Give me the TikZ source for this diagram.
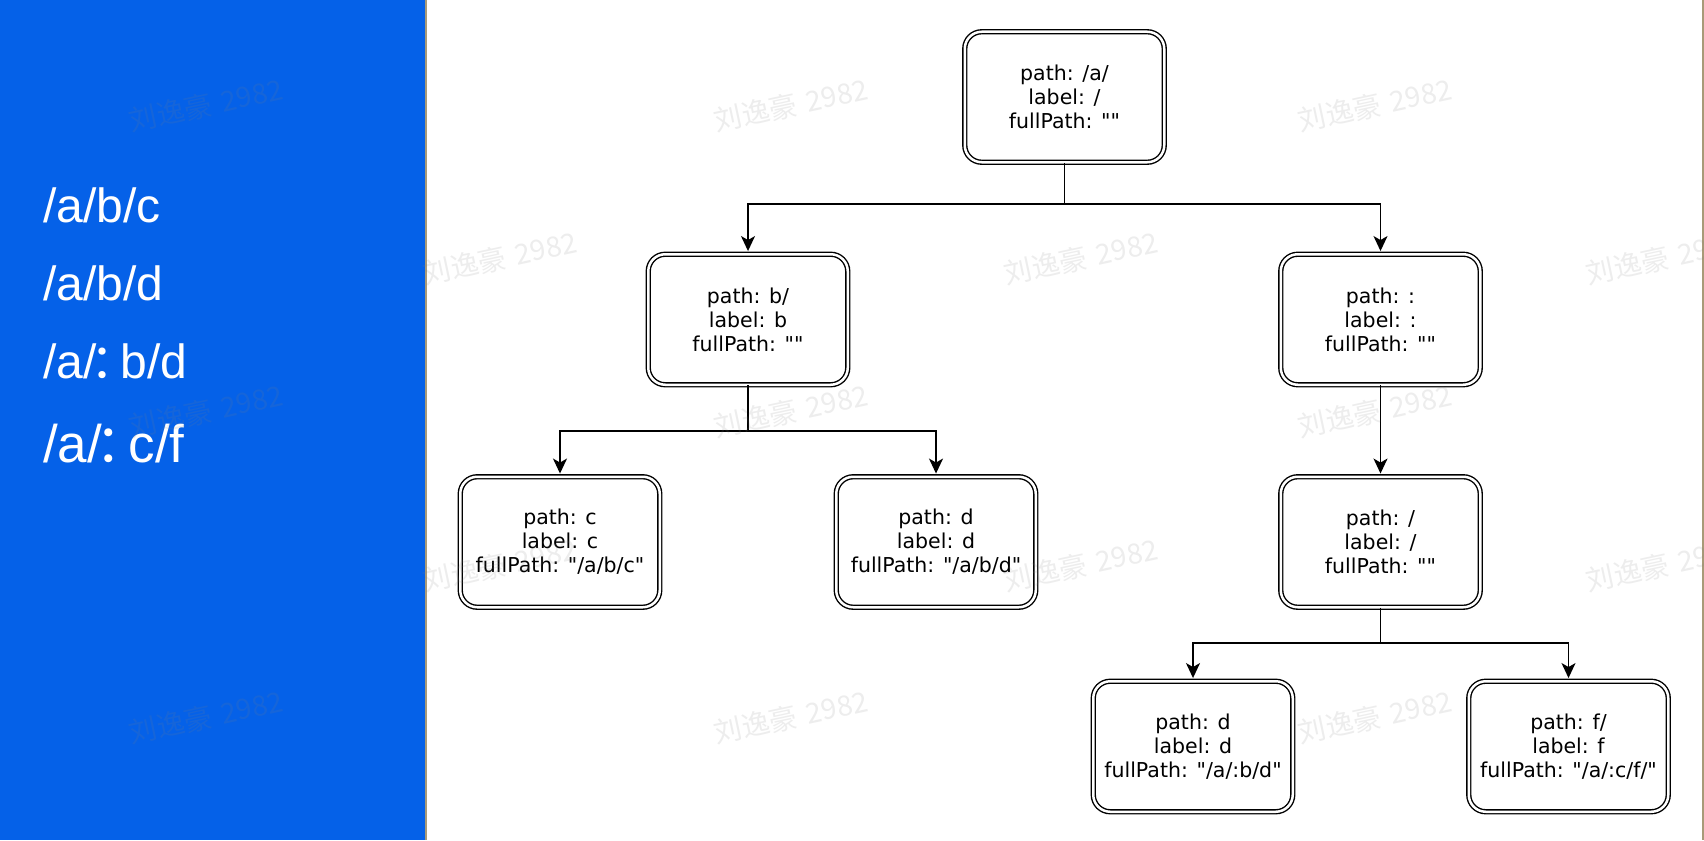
\documentclass[tikz,border=0pt]{standalone}
\usepackage{fontspec}
\setmainfont{Liberation Sans}
\newfontfamily\boxfont{DejaVu Sans}
\newfontfamily\cjk{Noto Sans CJK SC}
\usetikzlibrary{arrows.meta}
\definecolor{panelblue}{HTML}{0561E8}
\definecolor{frametan}{HTML}{A89A78}
\newcommand{\widecolon}{{\cjk\makebox[0.5em][l]{\hspace{-0.13em}：}}}
\tikzset{
  treenode/.style={draw=black, double=white, double distance=2.5pt, line width=1.4pt,
    rounded corners=17pt, minimum width=199.5pt, minimum height=130.5pt,
    inner sep=0pt, align=center, fill=white,
    font=\boxfont\fontsize{20.5}{24}\selectfont},
  arr/.style={line width=1.6pt, -{Stealth[length=15pt,width=14pt,inset=4pt]},
    shorten >=2.5pt},
  link/.style={line width=1.6pt},
  pathtext/.style={anchor=base west, text=white, inner sep=0pt},
  wmark/.style={text=gray, opacity=0.14, rotate=12, inner sep=0pt,
    font=\cjk\fontsize{28}{28}\selectfont}
}
\begin{document}
\begin{tikzpicture}[x=1pt,y=-1pt]
\useasboundingbox (0,0) rectangle (1704,840);
\fill[white] (0,0) rectangle (1704,840);
% left panel with the list of paths
\fill[panelblue] (0,0) rectangle (425,840);
\draw[frametan, line width=1.5pt] (426,0) -- (426,840);
\draw[frametan, line width=1.5pt] (1703,0) -- (1703,840);

\node[pathtext, font=\fontsize{48}{48}\selectfont] (p1) at (43,222) {/a/b/c};
\node[pathtext, font=\fontsize{48}{48}\selectfont] (p2) at (43,300) {/a/b/d};
\node[pathtext, font=\fontsize{48}{48}\selectfont] (p3) at (43,378) {/a/\widecolon b/d};
\node[pathtext, font=\fontsize{53}{53}\selectfont] (p4) at (43,462) {/a/\widecolon c/f};

% tree nodes
\node[treenode] (root)  at (1064.5,97)   {path: /a/\\label: /\\fullPath: ""};
\node[treenode] (b)     at (748,319.5)   {path: b/\\label: b\\fullPath: ""};
\node[treenode] (colon) at (1380.5,319.5){path: :\\label: :\\fullPath: ""};
\node[treenode] (c)     at (560,542)     {path: c\\label: c\\fullPath: "/a/b/c"};
\node[treenode] (d)     at (936,542)     {path: d\\label: d\\fullPath: "/a/b/d"};
\node[treenode] (slash) at (1380.5,542)  {path: /\\label: /\\fullPath: ""};
\node[treenode] (d2)    at (1193,746.5)  {path: d\\label: d\\fullPath: "/a/:b/d"};
\node[treenode] (f)     at (1568.5,746.5){path: f/\\label: f\\fullPath: "/a/:c/f/"};

% junction points of the elbow connectors
\coordinate (j1) at (1064.5,204);
\coordinate (j2) at (748,431);
\coordinate (j3) at (1380.5,643);

\draw[link] (root.south) -- (j1);
\draw[arr] (j1) -| (b.north);
\draw[arr] (j1) -| (colon.north);
\draw[link] (b.south) -- (j2);
\draw[arr] (j2) -| (c.north);
\draw[arr] (j2) -| (d.north);
\draw[arr] (colon.south) -- (slash.north);
\draw[link] (slash.south) -- (j3);
\draw[arr] (j3) -| (d2.north);
\draw[arr] (j3) -| (f.north);

% faint watermark grid
\foreach \wx/\wy [count=\i] in {206/105,791/105,1375/105,
    500/258,1081/258,1663/258,
    206/411,791/411,1375/411,
    500/565,1081/565,1663/565,
    206/717,791/717,1375/717}
  \node[wmark] (w\i) at (\wx,\wy) {刘逸豪\hspace{0.35em}2982};
\end{tikzpicture}
\end{document}
